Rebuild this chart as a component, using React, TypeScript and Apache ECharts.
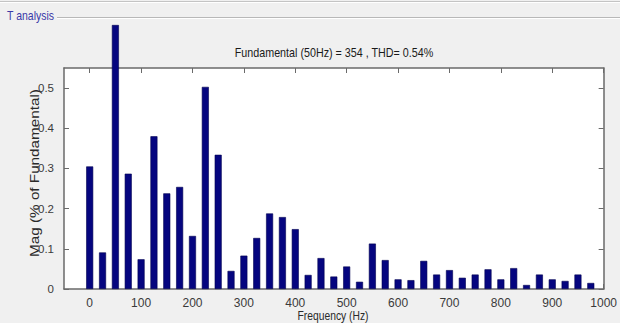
import React, { useEffect, useRef } from "react";
import * as echarts from "echarts";

// Harmonic frequencies (Hz)
const frequencies = [
  0, 25, 50, 75, 100, 125, 150, 175, 200, 225, 250, 275, 300, 325, 350, 375, 400,
  425, 450, 475, 500, 525, 550, 575, 600, 625, 650, 675, 700, 725, 750, 775, 800,
  825, 850, 875, 900, 925, 950, 975,
];
// Magnitude (% of fundamental); the 50 Hz bar is shown as drawn (clipped)
const magnitudes = [
  0.305, 0.091, 0.657, 0.287, 0.074, 0.38, 0.238, 0.254, 0.132, 0.503, 0.334, 0.045,
  0.083, 0.127, 0.188, 0.179, 0.149, 0.035, 0.077, 0.031, 0.056, 0.018, 0.113, 0.072,
  0.024, 0.022, 0.07, 0.036, 0.047, 0.028, 0.036, 0.049, 0.024, 0.052, 0.01, 0.036,
  0.024, 0.02, 0.036, 0.015,
];
const xTicks = [0, 100, 200, 300, 400, 500, 600, 700, 800, 900, 1000];
const yTicks = [0, 0.1, 0.2, 0.3, 0.4, 0.5];

const titleText = "Fundamental (50Hz) = 354 , THD= 0.54%";
const xName = "Frequency (Hz)";
const yName = "Mag (% of Fundamental)";
const panelName = "T analysis";

const SANS = '"Liberation Sans", Arial, sans-serif';

export default function App() {
  const ref = useRef<HTMLDivElement>(null);
  useEffect(() => {
    if (!ref.current) return;
    const chart = echarts.init(ref.current, undefined, { renderer: "svg" });
    const axisColor = "#6a6a6a";
    const labelStyle = { color: "#3a3a3a", fontSize: 12, fontFamily: SANS };
    chart.setOption({
      animation: false,
      backgroundColor: "#f0f0f0",
      grid: { left: 64, right: 16, top: 68, bottom: 34, show: true, backgroundColor: "#ffffff", borderWidth: 0 },
      xAxis: [
        {
          type: "value",
          min: -50,
          max: 1000,
          position: "bottom",
          splitLine: { show: false },
          axisLine: { show: true, onZero: false, lineStyle: { color: axisColor, width: 1.5 } },
          axisTick: { show: true, inside: true, length: 5, customValues: xTicks, lineStyle: { color: axisColor } },
          axisLabel: { ...labelStyle, margin: 8, customValues: xTicks, formatter: (v: number) => String(v) },
        },
        {
          type: "value",
          min: -50,
          max: 1000,
          position: "top",
          splitLine: { show: false },
          axisLine: { show: true, onZero: false, lineStyle: { color: axisColor, width: 1.5 } },
          axisTick: { show: true, inside: true, length: 5, customValues: xTicks, lineStyle: { color: axisColor } },
          axisLabel: { show: false },
        },
      ],
      yAxis: [
        {
          type: "value",
          min: 0,
          max: 0.55,
          position: "left",
          splitLine: { show: false },
          axisLine: { show: true, onZero: false, lineStyle: { color: axisColor, width: 1.5 } },
          axisTick: { show: true, inside: true, length: 5, customValues: yTicks, lineStyle: { color: axisColor } },
          axisLabel: { ...labelStyle, fontSize: 11.5, margin: 10, customValues: yTicks, formatter: (v: number) => (v === 0 ? "0" : v.toFixed(1)) },
        },
        {
          type: "value",
          min: 0,
          max: 0.55,
          position: "right",
          splitLine: { show: false },
          axisLine: { show: true, onZero: false, lineStyle: { color: axisColor, width: 1.5 } },
          axisTick: { show: true, inside: true, length: 5, customValues: yTicks, lineStyle: { color: axisColor } },
          axisLabel: { show: false },
        },
      ],
      series: [
        {
          type: "bar",
          xAxisIndex: 0,
          yAxisIndex: 0,
          barWidth: 7,
          clip: false,
          itemStyle: { color: "#05057f", borderColor: "#000050", borderWidth: 0.6 },
          data: frequencies.map((f, i) => [f, magnitudes[i]]),
        },
      ],
      graphic: [
        { type: "line", shape: { x1: 0, y1: 1.5, x2: 620, y2: 1.5 }, style: { stroke: "#c4c4c4", lineWidth: 1 } },
        { type: "line", shape: { x1: 0, y1: 2.5, x2: 620, y2: 2.5 }, style: { stroke: "#ffffff", lineWidth: 1 } },
        { type: "line", shape: { x1: 57, y1: 17.5, x2: 620, y2: 17.5 }, style: { stroke: "#b8b8b8", lineWidth: 1 } },
        { type: "line", shape: { x1: 57, y1: 18.5, x2: 620, y2: 18.5 }, style: { stroke: "#ffffff", lineWidth: 1 } },
        {
          type: "text",
          x: 7,
          y: 16,
          scaleX: 0.84,
          style: { text: panelName, fill: "#3a3aa8", fontSize: 12.5, fontFamily: SANS, textAlign: "left", textVerticalAlign: "middle" },
        },
        {
          type: "text",
          x: 334,
          y: 52,
          scaleX: 0.86,
          style: { text: titleText, fill: "#1a1a1a", fontSize: 12.5, fontFamily: SANS, textAlign: "center", textVerticalAlign: "middle" },
        },
        {
          type: "text",
          x: 333,
          y: 315.5,
          scaleX: 0.86,
          style: { text: xName, fill: "#2a2a2a", fontSize: 12, fontFamily: SANS, textAlign: "center", textVerticalAlign: "middle" },
        },
        {
          type: "text",
          x: 35,
          y: 173,
          rotation: Math.PI / 2,
          scaleX: 1.22,
          style: { text: yName, fill: "#2a2a2a", fontSize: 12.5, fontFamily: SANS, textAlign: "center", textVerticalAlign: "middle" },
        },
      ],
    });
    return () => chart.dispose();
  }, []);
  return (
    <div
      ref={ref}
      style={{ position: "fixed", left: 0, top: 0, width: 620, height: 323 }}
    />
  );
}
